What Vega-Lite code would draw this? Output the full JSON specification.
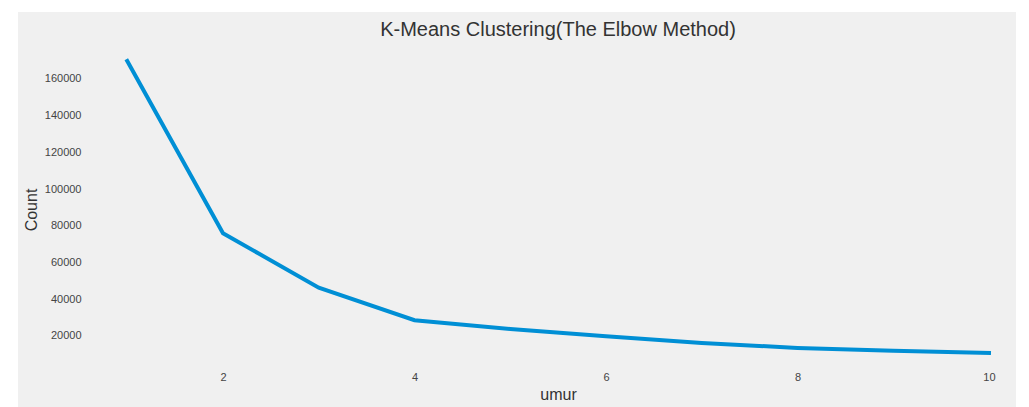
{
  "$schema": "https://vega.github.io/schema/vega-lite/v6.json",
  "autosize": "none",
  "width": 998,
  "height": 395,
  "padding": {"left": 18, "top": 12, "right": 13, "bottom": 0},
  "background": "white",
  "config": {
    "font": "Liberation Sans",
    "view": {"fill": "#f0f0f0", "stroke": null}
  },
  "title": {
    "text": "K-Means Clustering(The Elbow Method)",
    "fontSize": 20,
    "fontWeight": "normal",
    "color": "#333333",
    "anchor": "middle",
    "baseline": "alphabetic",
    "offset": 0,
    "dx": 41,
    "dy": 44
  },
  "data": {
    "values": [
      {"umur": 1, "count": 169800},
      {"umur": 2, "count": 76000},
      {"umur": 3, "count": 46300},
      {"umur": 4, "count": 28600},
      {"umur": 5, "count": 23800},
      {"umur": 6, "count": 19900},
      {"umur": 7, "count": 16200},
      {"umur": 8, "count": 13500},
      {"umur": 9, "count": 11900},
      {"umur": 10, "count": 10800}
    ]
  },
  "mark": {"type": "line", "color": "#008fd5", "strokeWidth": 4, "strokeCap": "square"},
  "encoding": {
    "x": {
      "field": "umur",
      "type": "quantitative",
      "scale": {"domain": [-0.141, 10.282], "nice": false, "zero": false},
      "axis": {
        "title": "umur",
        "values": [2, 4, 6, 8, 10],
        "grid": false,
        "domain": false,
        "ticks": false,
        "tickSize": 0,
        "offset": -36,
        "labelPadding": 0,
        "labelFontSize": 11,
        "labelColor": "#444444",
        "titleFontSize": 16,
        "titleFontWeight": "normal",
        "titleColor": "#333333",
        "titlePadding": 4,
        "titleX": 540
      }
    },
    "y": {
      "field": "count",
      "type": "quantitative",
      "scale": {"domain": [-18679, 196498], "nice": false, "zero": false},
      "axis": {
        "title": "Count",
        "values": [20000, 40000, 60000, 80000, 100000, 120000, 140000, 160000],
        "format": "d",
        "grid": false,
        "domain": false,
        "ticks": false,
        "tickSize": 0,
        "offset": -63,
        "labelPadding": 0,
        "labelFontSize": 11,
        "labelColor": "#444444",
        "titleFontSize": 16,
        "titleFontWeight": "normal",
        "titleColor": "#333333",
        "titlePadding": 5
      }
    }
  }
}
